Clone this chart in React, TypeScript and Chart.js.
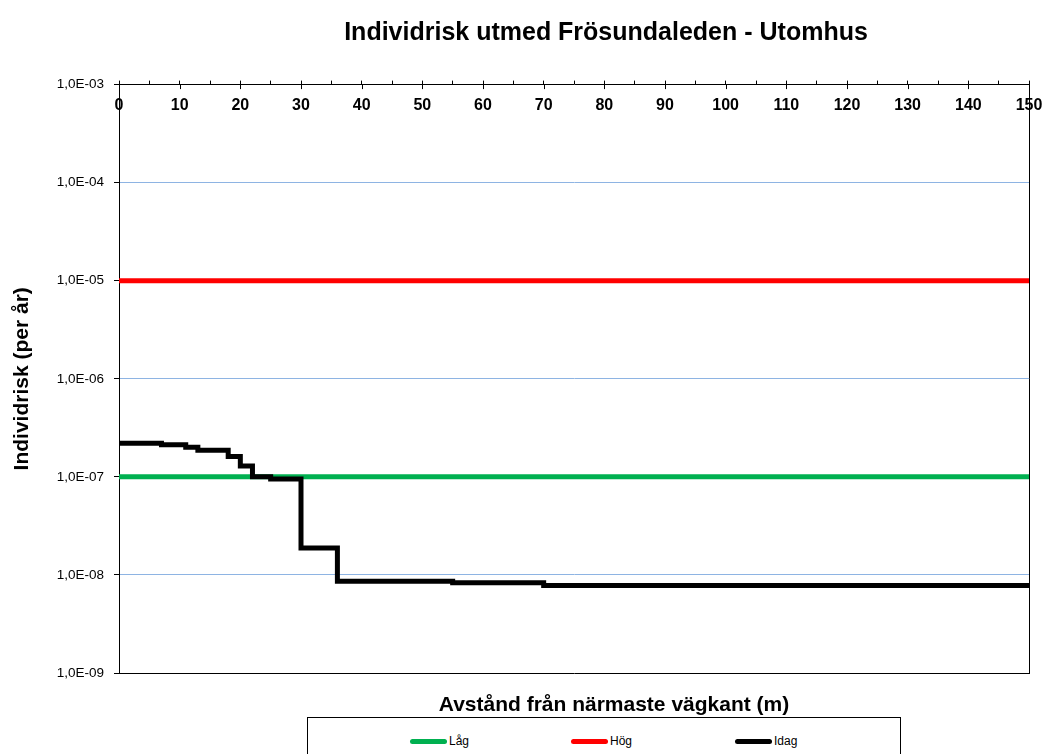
import React, { useEffect, useRef } from 'react';
import { Chart, registerables } from 'chart.js';

Chart.register(...registerables);

const FONT = 'Arial, "Liberation Sans", sans-serif';

const TITLE = 'Individrisk utmed Frösundaleden - Utomhus';
const X_TITLE = 'Avstånd från närmaste vägkant (m)';
const Y_TITLE = 'Individrisk (per år)';

const X_RANGE = [0, 150];
const X_MINOR_STEP = 5;
const X_LABEL_STEP = 10;

const Y_TICKS = [1e-9, 1e-8, 1e-7, 1e-6, 1e-5, 1e-4, 1e-3];
const Y_TICK_LABELS = ['1,0E-09', '1,0E-08', '1,0E-07', '1,0E-06', '1,0E-05', '1,0E-04', '1,0E-03'];

const SERIES_NAMES = ['Låg', 'Hög', 'Idag'];
const SERIES_COLORS = ['#00B050', '#FF0000', '#000000'];

const LAG_X = [0, 150];
const LAG_Y = [1e-7, 1e-7];

const HOG_X = [0, 150];
const HOG_Y = [1e-5, 1e-5];

const IDAG_X = [0, 7, 11, 13, 18, 20, 22, 25, 30, 36, 55, 70, 150];
const IDAG_Y = [2.2e-7, 2.13e-7, 2.01e-7, 1.87e-7, 1.61e-7, 1.29e-7, 1.0e-7, 9.5e-8, 1.88e-8, 8.6e-9, 8.3e-9, 7.8e-9, 7.8e-9];

const toPoints = (xs: number[], ys: number[]) => xs.map((x, i) => ({ x, y: ys[i] }));

const framePlugin = {
  id: 'frame',
  afterDraw(chart: any) {
    const { ctx, chartArea: a, scales } = chart;
    const xs = scales.x;
    ctx.save();
    ctx.strokeStyle = '#000';
    ctx.lineWidth = 1;
    ctx.beginPath();
    const r = Math.round(a.right) + 0.5;
    ctx.moveTo(r, a.top);
    ctx.lineTo(r, a.bottom);
    for (let v = X_RANGE[0]; v <= X_RANGE[1]; v += X_LABEL_STEP) {
      const px = Math.round(xs.getPixelForValue(v)) + 0.5;
      ctx.moveTo(px, a.top);
      ctx.lineTo(px, a.top + 4.5);
    }
    ctx.stroke();
    ctx.restore();
  },
};

function ChartCanvas() {
  const ref = useRef<HTMLCanvasElement | null>(null);

  useEffect(() => {
    if (!ref.current) return;
    Chart.defaults.font.family = FONT;
    Chart.defaults.color = '#000';
    const chart = new Chart(ref.current, {
      type: 'line',
      data: {
        datasets: [
          {
            label: SERIES_NAMES[0],
            data: toPoints(LAG_X, LAG_Y),
            borderColor: SERIES_COLORS[0],
            backgroundColor: SERIES_COLORS[0],
            borderWidth: 5,
            pointRadius: 0,
            borderCapStyle: 'butt',
            order: 1,
          },
          {
            label: SERIES_NAMES[1],
            data: toPoints(HOG_X, HOG_Y),
            borderColor: SERIES_COLORS[1],
            backgroundColor: SERIES_COLORS[1],
            borderWidth: 5,
            pointRadius: 0,
            borderCapStyle: 'butt',
            order: 1,
          },
          {
            label: SERIES_NAMES[2],
            data: toPoints(IDAG_X, IDAG_Y),
            borderColor: SERIES_COLORS[2],
            backgroundColor: SERIES_COLORS[2],
            borderWidth: 5,
            pointRadius: 0,
            stepped: true,
            borderCapStyle: 'butt',
            borderJoinStyle: 'miter',
            order: 0,
          },
        ],
      },
      options: {
        animation: false,
        responsive: false,
        devicePixelRatio: 1,
        layout: { padding: { left: 0, right: 16, top: 0, bottom: 36 } },
        plugins: {
          legend: { display: false },
          tooltip: { enabled: false },
          title: { display: false },
        },
        scales: {
          x: {
            type: 'linear',
            position: 'top',
            min: X_RANGE[0],
            max: X_RANGE[1],
            afterFit: (s: any) => {
              s.height = 84.6;
              s.paddingLeft = 0;
              s.paddingRight = 0;
            },
            ticks: {
              stepSize: X_MINOR_STEP,
              autoSkip: false,
              maxRotation: 0,
              mirror: true,
              padding: 11,
              color: '#000',
              font: { family: FONT, size: 16, weight: 'bold' },
              callback: (v: any) => (Number(v) % X_LABEL_STEP === 0 ? String(v) : ''),
            },
            grid: {
              display: true,
              drawOnChartArea: false,
              drawTicks: true,
              tickLength: 4,
              color: '#000',
            },
            border: { display: true, color: '#000', width: 1 },
          },
          x2: {
            type: 'linear',
            position: 'bottom',
            min: X_RANGE[0],
            max: X_RANGE[1],
            afterFit: (s: any) => {
              s.height = 45;
              s.paddingLeft = 0;
              s.paddingRight = 0;
            },
            ticks: { display: false },
            grid: { display: false },
            border: { display: true, color: '#000', width: 1 },
          },
          y: {
            type: 'logarithmic',
            position: 'left',
            min: Y_TICKS[0],
            max: Y_TICKS[Y_TICKS.length - 1],
            afterFit: (s: any) => {
              s.width = 119;
            },
            afterBuildTicks: (s: any) => {
              s.ticks = Y_TICKS.map((v) => ({ value: v, major: true }));
            },
            ticks: {
              autoSkip: false,
              padding: 10,
              color: '#000',
              font: { family: FONT, size: 13.5 },
              callback: (_v: any, i: number) => Y_TICK_LABELS[i],
            },
            grid: {
              color: (c: any) =>
                c.index === 0 || c.index === Y_TICKS.length - 1 ? 'rgba(0,0,0,0)' : '#8EB4E3',
              tickColor: '#000',
              tickLength: 5,
              lineWidth: 1,
            },
            border: { display: true, color: '#000', width: 1 },
            title: {
              display: true,
              text: Y_TITLE,
              color: '#000',
              font: { family: FONT, size: 21, weight: 'bold' },
              padding: { top: 9.4, bottom: 0 },
            },
          },
        },
      } as any,
      plugins: [framePlugin],
    });
    return () => chart.destroy();
  }, []);

  return <canvas ref={ref} width={1045} height={754} style={{ display: 'block' }} />;
}

export default function App() {
  return (
    <div
      style={{
        position: 'fixed',
        left: 0,
        top: 0,
        width: 1045,
        height: 754,
        background: '#fff',
        overflow: 'hidden',
        fontFamily: FONT,
      }}
    >
      <ChartCanvas />
      <div
        style={{
          position: 'absolute',
          left: 606,
          top: 16,
          transform: 'translateX(-50%)',
          whiteSpace: 'nowrap',
          fontSize: 25,
          lineHeight: '30px',
          fontWeight: 'bold',
          color: '#000',
        }}
      >
        {TITLE}
      </div>
      <div
        style={{
          position: 'absolute',
          left: 614,
          top: 692,
          transform: 'translateX(-50%)',
          whiteSpace: 'nowrap',
          fontSize: 21,
          lineHeight: '24px',
          fontWeight: 'bold',
          color: '#000',
        }}
      >
        {X_TITLE}
      </div>
      <div
        style={{
          position: 'absolute',
          left: 307,
          top: 717,
          width: 594,
          height: 46,
          boxSizing: 'border-box',
          border: '1px solid #000',
          background: '#fff',
          display: 'flex',
          alignItems: 'flex-start',
          paddingLeft: 102,
          paddingTop: 20,
        }}
      >
        {SERIES_NAMES.map((name, i) => (
          <div
            key={name}
            style={{ width: i === 0 ? 161 : 164, display: 'flex', alignItems: 'center', height: 6 }}
          >
            <span
              style={{
                display: 'inline-block',
                width: 37,
                height: 5,
                borderRadius: 3,
                background: SERIES_COLORS[i],
              }}
            />
            <span style={{ marginLeft: 2, fontSize: 12, color: '#000', lineHeight: '14px' }}>{name}</span>
          </div>
        ))}
      </div>
    </div>
  );
}
